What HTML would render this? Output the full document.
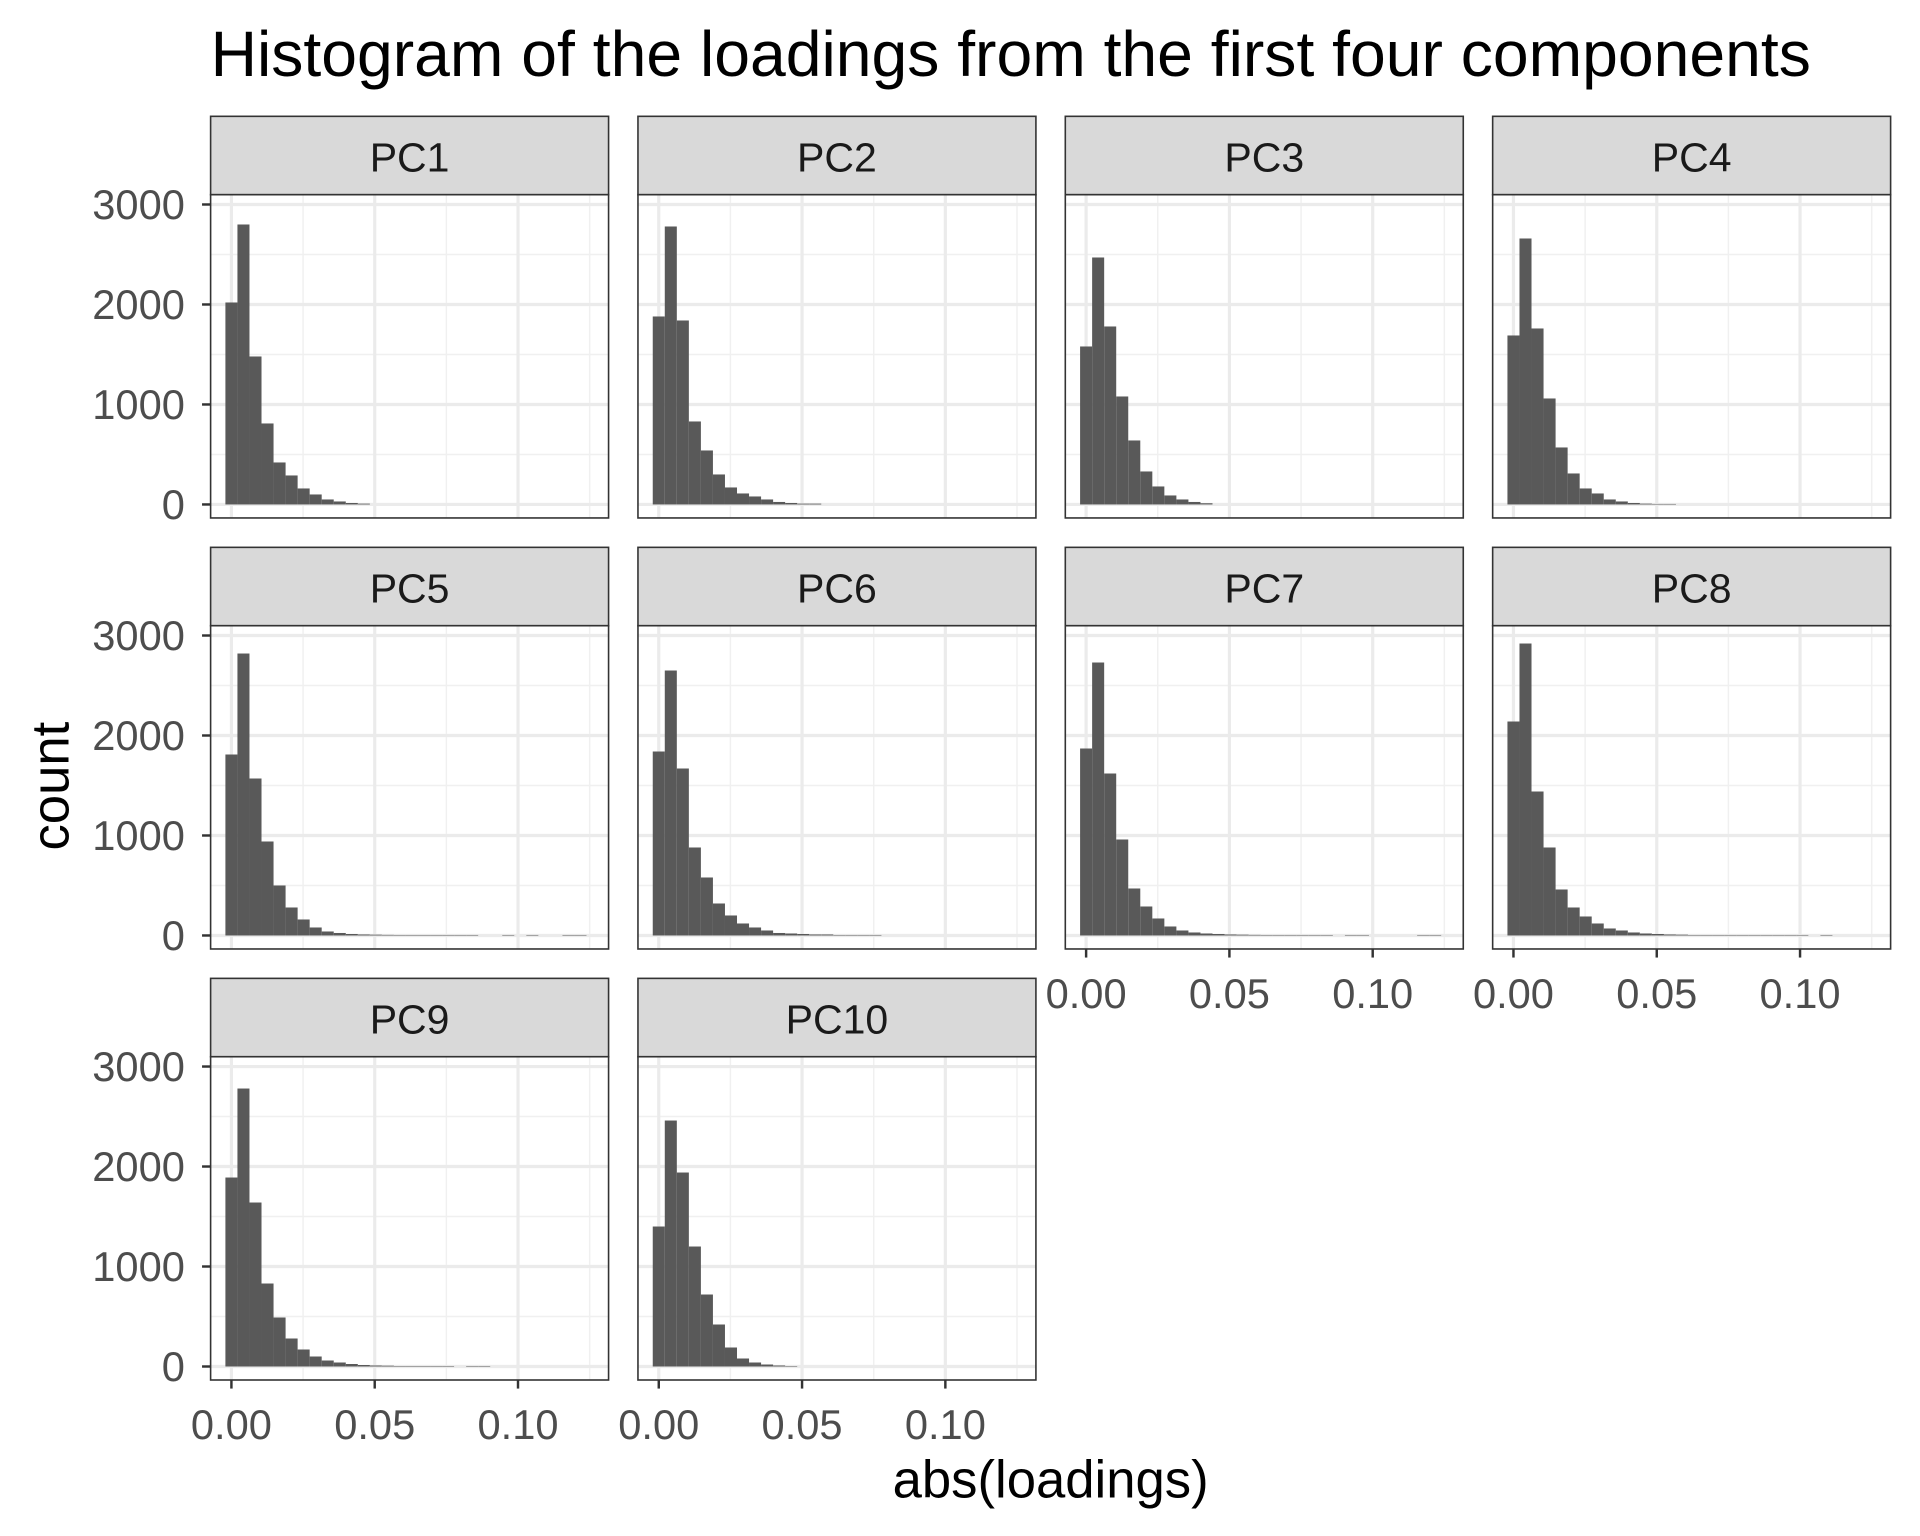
<!DOCTYPE html>
<html><head><meta charset="utf-8"><style>
html,body{margin:0;padding:0;background:#fff;}
svg{display:block;font-family:"Liberation Sans",sans-serif;}
</style></head><body>
<svg id="chart" width="1920" height="1536" viewBox="0 0 1568 1254.4">
<text x="172" y="62" font-size="52.5" fill="#000">Histogram of the loadings from the first four components</text>
<text transform="translate(56,642) rotate(-90)" text-anchor="middle" font-size="43" fill="#000">count</text>
<text x="858" y="1223" text-anchor="middle" font-size="43" fill="#000">abs(loadings)</text>
<g id="panels"></g>
</svg>
<script>
const panelNames = ["PC1","PC2","PC3","PC4","PC5","PC6","PC7","PC8","PC9","PC10"];
const pc1 = [2020,2800,1480,810,420,290,160,100,50,30,15,8];
const pc2 = [1880,2780,1840,830,540,300,170,110,80,50,25,15,8,8];
const pc3 = [1580,2470,1780,1080,640,330,180,90,50,25,12];
const pc4 = [1690,2660,1760,1060,570,310,160,110,50,30,15,8,5,5];
const pc5 = [1810,2820,1570,940,500,280,160,80,40,25,15,10,8,6,5,5,5,5,5,5,5,0,0,5,0,5,0,0,5,5];
const pc6 = [1840,2650,1670,880,580,320,200,120,80,50,25,20,15,10,10,5,5,5,5];
const pc7 = [1870,2730,1620,960,470,290,170,90,50,30,20,15,10,8,6,5,5,5,5,5,5,0,5,5,0,0,0,0,5,5];
const pc8 = [2140,2920,1440,880,460,280,190,120,70,50,30,20,15,10,8,5,5,5,5,5,5,5,5,5,5,0,5];
const pc9 = [1890,2780,1640,830,490,280,170,100,60,40,25,15,10,8,5,5,5,5,5,0,5,5];
const pc10 = [1400,2460,1940,1200,720,420,190,80,40,20,10,5];
const yTicks = [0,1000,2000,3000];
const yMinor = [500,1500,2500];
const xTicks = [0,0.05,0.10];
const xTickLabels = ["0.00","0.05","0.10"];
const xMinor = [0.025,0.075,0.125];
const binWidth = 0.0042;
const binStart = -0.0021;

const series = [pc1,pc2,pc3,pc4,pc5,pc6,pc7,pc8,pc9,pc10];
const NS = "http://www.w3.org/2000/svg";
const root = document.getElementById("panels");
const colX = [172,521,870,1219], rowY = [95,447,799];
const PW = 325, SH = 64, PH = 264;
const xMin = -0.00726, xMax = 0.1316, yMin = -135, yMax = 3098;
function mk(tag, attrs, parent){const e=document.createElementNS(NS,tag);for(const k in attrs)e.setAttribute(k,attrs[k]);parent.appendChild(e);return e;}

series.forEach((vals,i)=>{
  const c=i%4, r=Math.floor(i/4);
  const x0=colX[c], sy=rowY[r], py=sy+SH;
  const sx=v=>x0+(v-xMin)/(xMax-xMin)*PW;
  const syf=v=>py+PH-(v-yMin)/(yMax-yMin)*PH;
  const g=mk("g",{},root);
  
  
  const strip=mk("rect",{x:x0,y:sy,width:PW,height:SH,fill:"#d9d9d9",stroke:"#333","stroke-width":1.3},g);
  
  
  const st=mk("text",{x:x0+PW/2,y:sy+45,"text-anchor":"middle","font-size":33.5,fill:"#1a1a1a"},g);
  st.textContent=panelNames[i];
  
  
  mk("rect",{x:x0,y:py,width:PW,height:PH,fill:"#fff"},g);
  yMinor.forEach(v=>mk("line",{x1:x0,x2:x0+PW,y1:syf(v),y2:syf(v),stroke:"#f0f0f0","stroke-width":1.2},g));
  xMinor.forEach(v=>mk("line",{x1:sx(v),x2:sx(v),y1:py,y2:py+PH,stroke:"#f0f0f0","stroke-width":1.2},g));
  yTicks.forEach(v=>mk("line",{x1:x0,x2:x0+PW,y1:syf(v),y2:syf(v),stroke:"#ebebeb","stroke-width":2.6},g));
  xTicks.forEach(v=>mk("line",{x1:sx(v),x2:sx(v),y1:py,y2:py+PH,stroke:"#ebebeb","stroke-width":2.6},g));
  vals.forEach((v,j)=>{
    if(v<=0)return;
    const a=binStart+j*binWidth;
    const b=mk("rect",{x:sx(a),y:syf(v),width:sx(a+binWidth)-sx(a),height:syf(0)-syf(v),fill:"#595959"},g);
    
    
  });
  mk("rect",{x:x0,y:py,width:PW,height:PH,fill:"none",stroke:"#333","stroke-width":1.3},g);
  if(c===0){
    yTicks.forEach(v=>{
      mk("line",{x1:x0-7,x2:x0,y1:syf(v),y2:syf(v),stroke:"#333","stroke-width":2},g);
      const t=mk("text",{x:x0-21,y:syf(v)+12,"text-anchor":"end","font-size":34,fill:"#4d4d4d"},g);
      t.textContent=v;
      
      
    });
  }
  if(r===2 || (r===1 && c>=2)){
    xTicks.forEach((v,k)=>{
      mk("line",{x1:sx(v),x2:sx(v),y1:py+PH,y2:py+PH+7,stroke:"#333","stroke-width":2},g);
      const t=mk("text",{x:sx(v),y:py+PH+48,"text-anchor":"middle","font-size":34,fill:"#4d4d4d"},g);
      t.textContent=xTickLabels[k];
      
      
    });
  }
});
</script>
</body></html>
